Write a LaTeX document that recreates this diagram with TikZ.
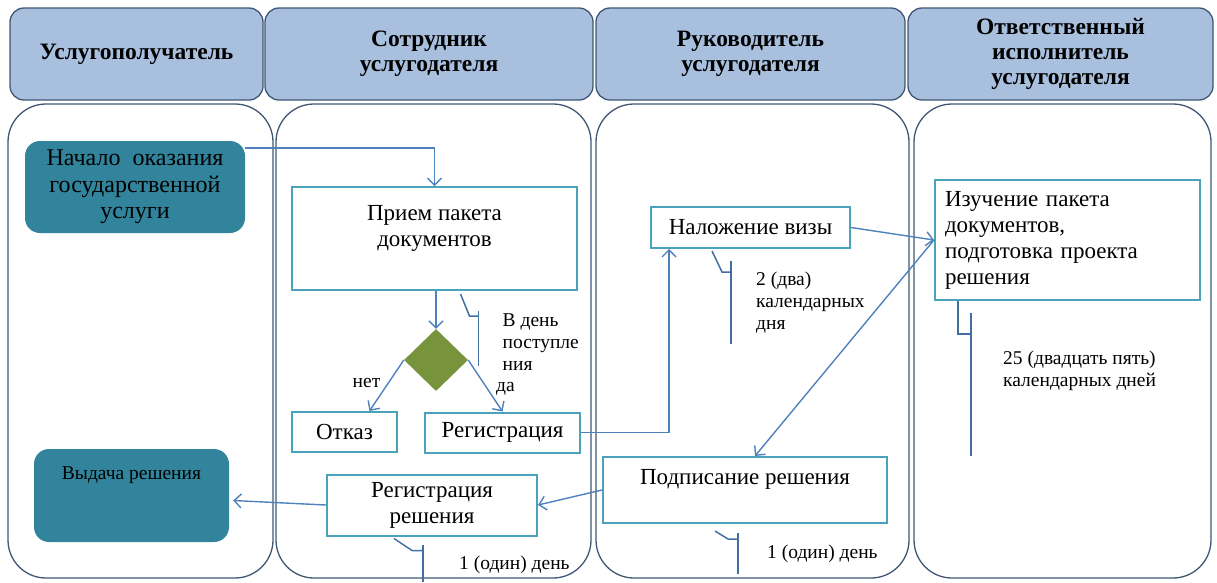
\documentclass[tikz,border=0pt]{standalone}
\usepackage{fontspec}
\setmainfont{Liberation Serif}
\usetikzlibrary{shapes.geometric,arrows.meta,calc}
\definecolor{shapka}{RGB}{168,192,222}
\definecolor{ramka}{RGB}{63,87,117}
\definecolor{kant}{RGB}{75,163,187}
\definecolor{strelka}{RGB}{79,129,189}
\definecolor{morskoj}{RGB}{49,132,155}
\definecolor{oliva}{RGB}{119,147,60}
\newcommand{\obych}{\fontsize{23}{26}\selectfont}
\newcommand{\melko}{\fontsize{19.5}{22}\selectfont}
\newcommand{\shapkafont}{\fontsize{23.5}{25}\selectfont\bfseries}

\begin{document}
\begin{tikzpicture}[x=1pt,y=-1pt]
    \tikzset{shapkabox/.style={draw=ramka, line width=1.3pt, fill=shapka, rounded corners=14pt, align=center, font=\shapkafont, inner sep=0pt},
             dorozhka/.style={draw=ramka, line width=1.3pt, rounded corners=38pt},
             etap/.style={draw=kant, line width=2pt, align=center, font=\obych, inner sep=0pt},
             krug/.style={fill=morskoj, rounded corners=15pt, align=center, font=\obych, inner sep=0pt},
             vybor/.style={diamond, fill=oliva, inner sep=0pt, minimum width=64pt, minimum height=62pt},
             strel/.style={draw=strelka, line width=1.4pt, -{Straight Barb[length=7pt,width=14pt]}},
             skoba/.style={draw=strelka!85!black, line width=1.5pt},
             srok/.style={font=\melko, align=left, anchor=west, inner sep=0pt}}
    \useasboundingbox (0,0) rectangle (1217,582);
    % shapki
    \node[shapkabox, minimum width=253pt, minimum height=92pt] (hPoluch) at (136.5,54) {Услугополучатель};
    \node[shapkabox, minimum width=328pt, minimum height=92pt] (hSotr) at (429,54) {Сотрудник\\услугодателя};
    \node[shapkabox, minimum width=309pt, minimum height=92pt] (hRuk) at (750.5,54) {Руководитель\\услугодателя};
    \node[shapkabox, minimum width=305pt, minimum height=92pt] (hOtv) at (1060.5,54) {Ответственный\\исполнитель\\услугодателя};
    % dorozhki
    \draw[dorozhka] (8,104) rectangle (273,578);
    \draw[dorozhka] (276,104) rectangle (591,578);
    \draw[dorozhka] (596,104) rectangle (909,578);
    \draw[dorozhka] (914,104) rectangle (1211,578);
    % etapy
    \node[krug, minimum width=220pt, minimum height=92pt, font=\fontsize{24}{26.5}\selectfont] (nachalo) at (135,187) {Начало\hspace{0.5em}оказания\\государственной\\услуги};
    \node[etap, minimum width=285pt, minimum height=103pt] (priem) at (434.5,238.5) {Прием пакета\\документов\\~};
    \node[vybor] (vybor) at (436,360) {};
    \node[etap, minimum width=105pt, minimum height=40pt] (otkaz) at (344.5,432) {Отказ};
    \node[etap, minimum width=155pt, minimum height=40pt] (registr) at (502.5,432.5) {Регистрация};
    \node[etap, minimum width=199pt, minimum height=41pt] (viza) at (750.5,227.5) {Наложение визы};
    \node[etap, minimum width=265pt, minimum height=120pt, text width=245pt, align=left] (izuch) at (1067.5,240) {Изучение пакета\\документов,\\подготовка проекта\\решения};
    \node[etap, minimum width=284pt, minimum height=66pt] (podpis) at (745,490) {Подписание решения\\~};
    \node[etap, minimum width=210pt, minimum height=61pt] (regresh) at (432,505) {Регистрация\\решения};
    \node[krug, minimum width=195pt, minimum height=93pt, font=\melko] (vydacha) at (131.5,495.5) {Выдача решения\\~\\~};
    % strelki
    \draw[strel] ($(nachalo.north east)+(0,7)$) -| (priem.north);
    \draw[strel] (vybor.north |- priem.south) -- (vybor.north);
    \draw[strel] (vybor.west) -- ($(otkaz.north)+(25,0)$) node[pos=0.45, left=4pt, font=\melko] (lNet) {нет};
    \draw[strel] (vybor.east) -- (registr.north) node[pos=0.55, right=5pt, font=\melko] (lDa) {да};
    \draw[strel] (registr.east) -| ($(viza.south west)+(19,0)$);
    \draw[strel] (viza.east) -- (izuch.west);
    \draw[strel] (izuch.west) -- ($(podpis.north)+(10,0)$);
    \draw[strel] (podpis.west) -- (regresh.east);
    \draw[strel] (regresh.west) -- ($(vydacha.east)+(4,5)$);
    % sroki
    \draw[skoba] ($(priem.south)+(26,3)$) -- ++(9,22) -- ++(9,0) coordinate (kPriem);
    \draw[skoba] ($(kPriem)+(0,-5)$) -- ($(kPriem)+(0,50)$);
    \node[srok] (tPriem) at ($(kPriem)+(24,26)$) {В день\\поступле\\ния};
    \draw[skoba] ($(viza.south west)+(62,2)$) -- ++(10,21) -- ++(9,0) coordinate (kViza);
    \draw[skoba] ($(kViza)+(0,-11)$) -- ($(kViza)+(0,72)$);
    \node[srok] (tViza) at ($(kViza)+(25,31)$) {2 (два)\\календарных\\дня};
    \draw[skoba] ($(izuch.south west)+(24,0)$) -- ++(0,33) -- ++(13,0) coordinate (kIzuch);
    \draw[skoba] ($(kIzuch)+(0,-21)$) -- ($(kIzuch)+(0,122)$);
    \node[srok] (tIzuch) at ($(kIzuch)+(32,37)$) {25 (двадцать пять)\\календарных дней};
    \draw[skoba] ($(regresh.south west)+(68,2)$) -- ++(18,12) -- ++(11,0) coordinate (kRegresh);
    \draw[skoba] ($(kRegresh)+(0,-6)$) -- ($(kRegresh)+(0,31)$);
    \node[srok] (tRegresh) at ($(kRegresh)+(36,14)$) {1 (один) день};
    \draw[skoba] ($(podpis.south west)+(113,7)$) -- ++(13,8) -- ++(10,0) coordinate (kPodpis);
    \draw[skoba] ($(kPodpis)+(0,-6)$) -- ($(kPodpis)+(0,35)$);
    \node[srok] (tPodpis) at ($(kPodpis)+(29,15)$) {1 (один) день};
\end{tikzpicture}
\end{document}
